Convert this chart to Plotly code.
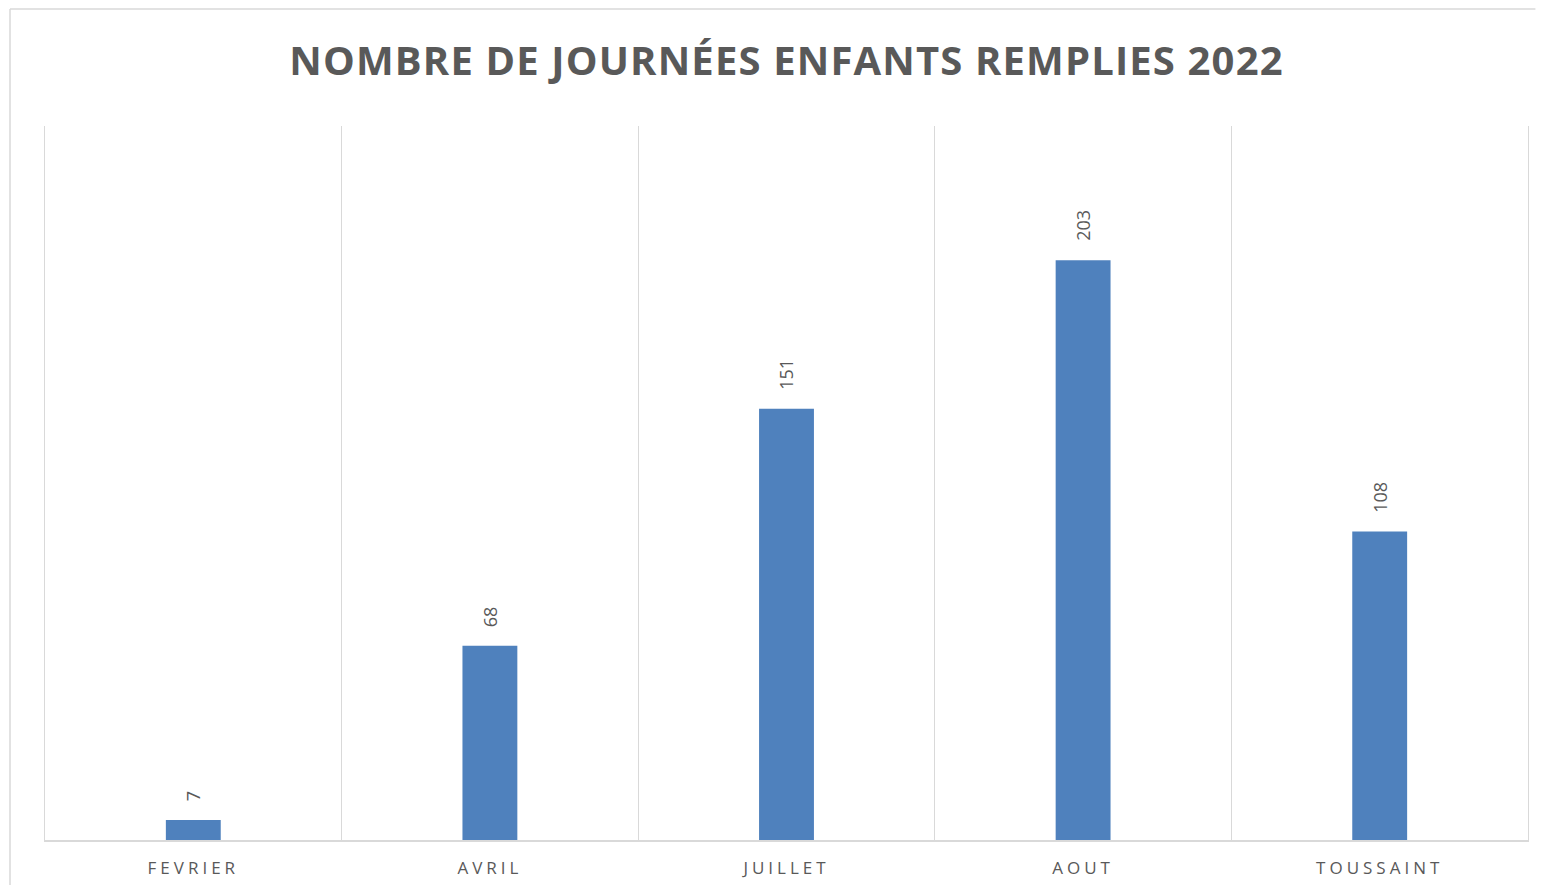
import plotly.graph_objects as go

categories = ["FEVRIER", "AVRIL", "JUILLET", "AOUT", "TOUSSAINT"]
values = [7, 68, 151, 203, 108]
title_text = "NOMBRE DE JOURNÉES ENFANTS REMPLIES 2022"

bar_color = "#4F81BD"
text_grey = "#595959"
grid_grey = "#d9d9d9"


def spaced(s, px):
    return '<span style="letter-spacing:%spx">%s</span>' % (px, s)


fig = go.Figure(go.Bar(
    x=categories,
    y=values,
    width=0.185,
    marker=dict(color=bar_color, line=dict(width=0)),
    hoverinfo="x+y",
))

# data labels, rotated, above each bar
for c, v in zip(categories, values):
    fig.add_annotation(
        x=c, y=v, text=str(v), textangle=-90,
        showarrow=False, xanchor="center", yanchor="bottom", yshift=17,
        font=dict(family="Open Sans", size=18, color=text_grey),
    )

# outer chart frame: only the left and top edges are inside the picture
fig.add_shape(type="line", xref="paper", yref="paper",
              x0=-0.0236, x1=-0.0236, y0=-0.07, y1=1.1639,
              line=dict(color=grid_grey, width=1.5), layer="below")
fig.add_shape(type="line", xref="paper", yref="paper",
              x0=-0.0236, x1=1.005, y0=1.1639, y1=1.1639,
              line=dict(color=grid_grey, width=1.5), layer="below")

fig.update_layout(
    width=1528, height=877,
    margin=dict(l=37, r=8, t=118, b=45, autoexpand=False),
    paper_bgcolor="white", plot_bgcolor="white",
    showlegend=False,
    title=dict(
        text="<b>" + spaced(title_text, 1.15) + "</b>",
        x=0.5, xref="paper", xanchor="center",
        y=1 - 53 / 877, yref="container", yanchor="middle",
        font=dict(family="Open Sans", size=40, color=text_grey),
    ),
    xaxis=dict(
        type="category",
        tickmode="array", tickvals=categories,
        ticktext=[spaced(c, 4) for c in categories],
        tickson="boundaries", ticks="",
        showgrid=True, gridcolor=grid_grey, gridwidth=1.3,
        showline=True, linecolor=grid_grey, linewidth=1.5,
        tickfont=dict(family="Open Sans", size=17, color=text_grey),
        ticklabelstandoff=12, automargin=False,
        range=[-0.5, 4.5], fixedrange=True,
    ),
    yaxis=dict(
        range=[0, 250], showgrid=False, zeroline=False,
        showticklabels=False, ticks="", automargin=False,
        showline=True, mirror=True, linecolor=grid_grey, linewidth=1.3,
        fixedrange=True,
    ),
)

fig.write_html("out.html")
